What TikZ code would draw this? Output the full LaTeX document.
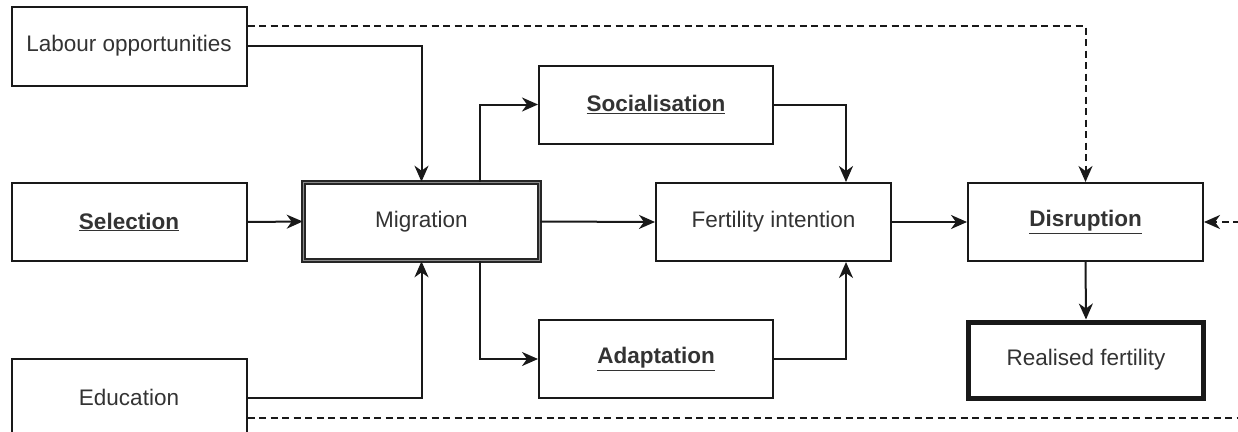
\documentclass[tikz,border=0pt]{standalone}
\usepackage{fontspec}
\setmainfont{Liberation Sans}
\usetikzlibrary{arrows.meta,calc}
\begin{document}
\begin{tikzpicture}[x=1pt,y=-1pt,
  box/.style={draw=black!90,line width=2pt,fill=white,rectangle,inner sep=0pt,
     minimum width=235pt,minimum height=78pt,text=black!80,
     font=\fontsize{22.5}{26}\selectfont},
  migbox/.style={box,draw=black!85,double=black!45,double distance=1.6pt,line width=1.6pt},
  realbox/.style={box,line width=5pt,minimum width=235pt,minimum height=76pt},
  conn/.style={line width=2pt,draw=black!90},
  arr/.style={conn,-{Stealth[length=16pt,width=14pt,inset=5pt]}},
  dashline/.style={conn,dash pattern=on 7pt off 4.5pt},
  darr/.style={arr,dash pattern=on 7pt off 4.5pt}
]
\clip (0,0) rectangle (1238,431);
\fill[white] (0,0) rectangle (1238,431);

\node[box] (lab) at (129,46) [minimum height=79pt] {Labour opportunities};
\node[box] (sel) at (129,222) {\underline{\textbf{Selection}}};
\node[box] (edu) at (129,397.5) [minimum height=77pt] {Education};
\node[migbox] (mig) at (421.5,221.5) [minimum width=236pt] {Migration};
\node[box] (soc) at (656,104.5) [minimum width=234pt] {\underline{\textbf{Socialisation}}};
\node[box] (fert) at (773.5,222) {Fertility intention};
\node[box] (adapt) at (656,359) [minimum width=234pt] {\underline{\textbf{Adaptation}}};
\node[box] (dis) at (1085.5,222) {\underline{\textbf{Disruption}}};
\node[realbox] (real) at (1086,360) {Realised fertility};

\coordinate (rightin) at (1240,222);
\coordinate (bottomend) at (1240,418);

% connectors
\draw[arr] (lab.east) -| (mig.north);
\draw[darr] ($(lab.east)+(0,-20)$) -| (dis.north);
\draw[arr] (sel.east) -- (mig.west);
\draw[arr] (edu.east) -| (mig.south);
\draw[dashline] ($(edu.east)+(0,20.5)$) -- (bottomend);
\draw[arr] ($(mig.north)+(58.5,0)$) |- (soc.west);
\draw[arr] ($(mig.south)+(58.5,0)$) |- (adapt.west);
\draw[arr] (mig.east) -- (fert.west);
\draw[arr] (soc.east) -| ($(fert.north)+(72.5,0)$);
\draw[arr] (adapt.east) -| ($(fert.south)+(72.5,0)$);
\draw[arr] (fert.east) -- (dis.west);
\draw[darr] (rightin) -- (dis.east);
\draw[arr] (dis.south) -- (real.north);
\end{tikzpicture}
\end{document}
